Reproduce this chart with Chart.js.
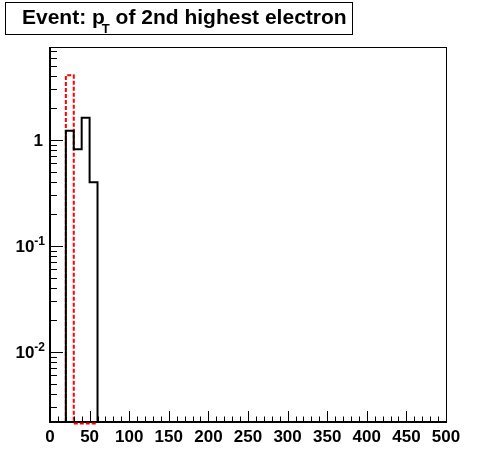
<!DOCTYPE html>
<html>
<head>
<meta charset="utf-8">
<script src="https://cdn.jsdelivr.net/npm/chart.js@4.4.1/dist/chart.umd.min.js"></script>
<style>
  body { margin: 0; background: #fff; }
  canvas { display: block; }
</style>
</head>
<body>
<canvas id="histChart" width="496" height="472"></canvas>
<script>
// bin edges and contents
const blackEdges = [20, 30, 40, 50, 60];
const blackValues = [1.22, 0.82, 1.62, 0.40];
const redEdges = [20, 30];
const redValues = [4.08];

const xTicks = [0, 50, 100, 150, 200, 250, 300, 350, 400, 450, 500];
const yTicks = [0.01, 0.1, 1];
const yTickLabels = [['10', '-2'], ['10', '-1'], ['1', '']];

const xMin = 0, xMax = 500;
const yMin = 0.00217, yMax = 7.56;

// outline of a histogram as step points, empty bins sit on the axis floor
function histPoints(edges, values) {
    const pts = [{ x: edges[0], y: yMin }];
    values.forEach((v, i) => pts.push({ x: edges[i], y: v }));
    pts.push({ x: edges[edges.length - 1], y: yMin });
    pts.push({ x: xMax, y: yMin });
    return pts;
}

const FONT = '"Liberation Sans", Arial, sans-serif';

const rootAxes = {
    id: 'rootAxes',
    afterDraw(chart) {
        const c = chart.ctx;
        const a = chart.chartArea;
        const xs = chart.scales.x, ys = chart.scales.y;
        c.save();
        c.strokeStyle = '#000';

        // frame
        c.lineWidth = 1;
        c.strokeRect(a.left + 0.5, a.top + 0.5, a.right - a.left, a.bottom - a.top);

        // axes lines
        c.lineWidth = 2;
        c.beginPath();
        c.moveTo(a.left, a.top);
        c.lineTo(a.left, a.bottom);
        c.lineTo(a.right, a.bottom);
        c.stroke();

        // red empty bins peek out just under the axis between 30 and 60
        c.strokeStyle = '#ff0000';
        c.setLineDash([4, 2]);
        c.beginPath();
        c.moveTo(xs.getPixelForValue(redEdges[1]), a.bottom + 1.5);
        c.lineTo(xs.getPixelForValue(blackEdges[blackEdges.length - 1]), a.bottom + 1.5);
        c.stroke();
        c.setLineDash([]);
        c.strokeStyle = '#000';

        // x ticks
        c.lineWidth = 1;
        c.beginPath();
        for (let v = xMin; v <= xMax; v += 10) {
            const px = Math.round(xs.getPixelForValue(v)) + 0.5;
            const len = (v % 50 === 0) ? 11 : 5.5;
            c.moveTo(px, a.bottom);
            c.lineTo(px, a.bottom - len);
        }
        c.stroke();

        // y ticks (log)
        c.beginPath();
        for (let e = -3; e <= 1; e++) {
            for (let m = 1; m <= 9; m++) {
                const v = m * Math.pow(10, e);
                if (v < yMin || v > yMax) continue;
                const py = Math.round(ys.getPixelForValue(v)) + 0.5;
                const len = (m === 1) ? 13 : 7;
                c.moveTo(a.left, py);
                c.lineTo(a.left + len, py);
            }
        }
        c.stroke();

        // x labels
        c.fillStyle = '#000';
        c.font = 'bold 17px ' + FONT;
        c.textAlign = 'center';
        c.textBaseline = 'alphabetic';
        xTicks.forEach(v => {
            c.fillText(String(v), xs.getPixelForValue(v), 442);
        });

        // y labels with superscript
        yTicks.forEach((v, i) => {
            const py = ys.getPixelForValue(v);
            const [base, sup] = yTickLabels[i];
            c.font = 'bold 17px ' + FONT;
            const bw = c.measureText(base).width;
            c.font = 'bold 12px ' + FONT;
            const sw = sup ? c.measureText(sup).width : 0;
            const right = sup ? 45 : 43;
            c.textAlign = 'left';
            c.font = 'bold 17px ' + FONT;
            c.fillText(base, right - sw - bw, py + 6);
            if (sup) {
                c.font = 'bold 12px ' + FONT;
                c.fillText(sup, right - sw, py - 1);
            }
        });

        // title box
        c.lineWidth = 1;
        c.fillStyle = '#fff';
        c.fillRect(5, 2, 348, 33);
        c.strokeRect(5.5, 2.5, 347, 32);
        c.fillStyle = '#000';
        c.textAlign = 'left';
        c.font = 'bold 21px ' + FONT;
        let tx = 22;
        c.fillText('Event: p', tx, 24);
        tx += c.measureText('Event: p').width;
        c.font = 'bold 13px ' + FONT;
        c.fillText('T', tx - 3, 33);
        tx += c.measureText('T').width - 3;
        c.font = 'bold 21px ' + FONT;
        c.fillText(' of 2nd highest electron', tx, 24);

        c.restore();
    }
};

const ctx = document.getElementById('histChart').getContext('2d');

new Chart(ctx, {
    type: 'line',
    data: {
        datasets: [{
            data: histPoints(blackEdges, blackValues),
            borderColor: '#000',
            borderWidth: 2,
            stepped: true,
            pointRadius: 0,
            fill: false
        }, {
            data: histPoints(redEdges, redValues),
            borderColor: '#ff0000',
            borderWidth: 2,
            borderDash: [4, 2],
            stepped: true,
            pointRadius: 0,
            fill: false
        }]
    },
    options: {
        responsive: false,
        animation: false,
        layout: { padding: { left: 50, right: 50, top: 47, bottom: 50 } },
        scales: {
            x: { type: 'linear', min: xMin, max: xMax, display: false },
            y: { type: 'logarithmic', min: yMin, max: yMax, display: false }
        },
        plugins: {
            legend: { display: false },
            tooltip: { enabled: false }
        }
    },
    plugins: [rootAxes]
});
</script>
</body>
</html>
